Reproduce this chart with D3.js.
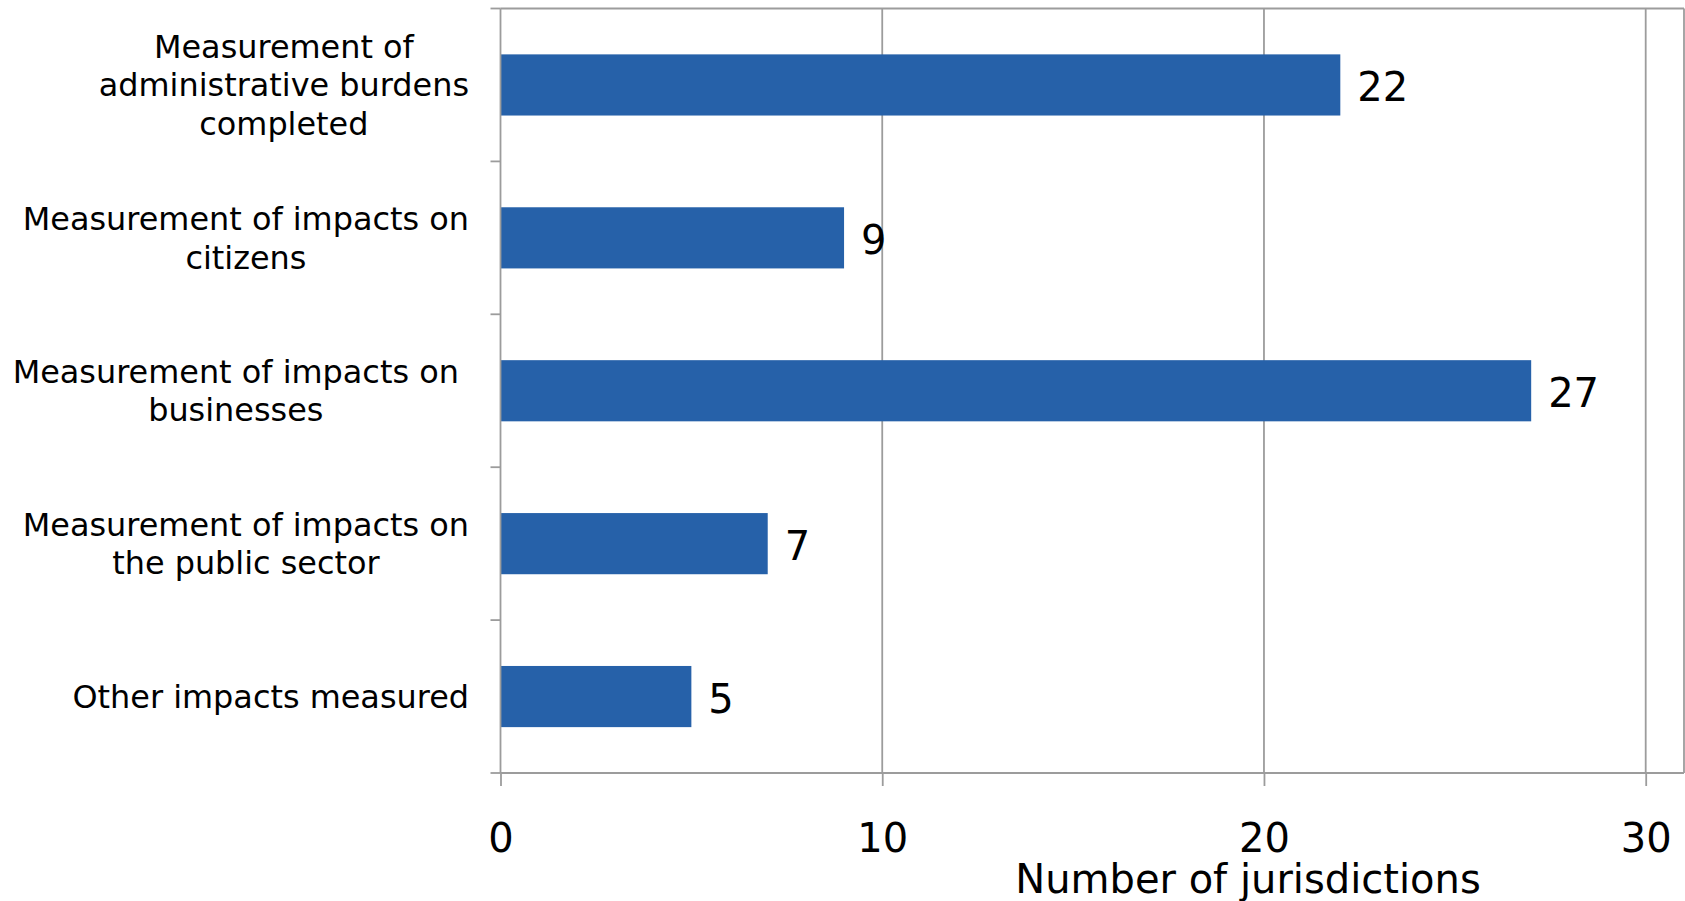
<!DOCTYPE html>
<html>
<head>
<meta charset="utf-8">
<script src="https://cdn.jsdelivr.net/npm/d3@7"></script>
<style>
  html, body { margin: 0; padding: 0; background: #fff; }
  svg { display: block; }
  text { font-family: "DejaVu Sans", Verdana, sans-serif; fill: #000; white-space: pre; }
</style>
</head>
<body>
<svg id="chart" width="1685" height="901"></svg>
<script>
// ---- data ----
const categories = [
  ["Measurement of", "administrative burdens", "completed"],
  ["Measurement of impacts on", "citizens"],
  ["Measurement of impacts on ", "businesses "],
  ["Measurement of impacts on", "the public sector"],
  ["Other impacts measured"]
];
const values = [22, 9, 27, 7, 5];
const xTicks = [0, 10, 20, 30];
const xTitle = "Number of jurisdictions";

// ---- layout ----
const plotL = 500.5, plotR = 1684, plotT = 8.5, plotB = 773;
const svg = d3.select("#chart");

const x = d3.scaleLinear().domain([0, 30]).range([plotL, 1645.7]);
const ids = d3.range(categories.length);
const y = d3.scaleBand().domain(ids).range([plotT, plotB]).paddingInner(0.6).paddingOuter(0.3);
const yBand = d3.scaleBand().domain(ids).range([plotT, plotB]);

const axisColor = "#9c9c9c";
const lw = 1.8;

// gridlines
svg.append("g").selectAll("line").data(xTicks.filter(d => d > 0)).join("line")
  .attr("x1", d => x(d)).attr("x2", d => x(d))
  .attr("y1", plotT).attr("y2", plotB)
  .attr("stroke", axisColor).attr("stroke-width", lw);

// plot border (top and right)
svg.append("line").attr("x1", plotL).attr("x2", plotR).attr("y1", plotT).attr("y2", plotT)
  .attr("stroke", axisColor).attr("stroke-width", lw);
svg.append("line").attr("x1", plotR).attr("x2", plotR).attr("y1", plotT).attr("y2", plotB)
  .attr("stroke", axisColor).attr("stroke-width", lw);

// bars
svg.append("g").selectAll("rect").data(values).join("rect")
  .attr("x", x(0))
  .attr("y", (d, i) => y(i))
  .attr("width", d => x(d) - x(0))
  .attr("height", y.bandwidth())
  .attr("fill", "#2661a9");

// value labels
svg.append("g").selectAll("text").data(values).join("text")
  .attr("x", d => x(d) + 17)
  .attr("y", (d, i) => y(i) + y.bandwidth() / 2 + 16)
  .attr("font-size", 40)
  .text(d => d);

// y axis line + ticks at band boundaries
const yTickPos = ids.map(i => yBand(i)).concat([plotB]);
svg.append("line").attr("x1", plotL).attr("x2", plotL).attr("y1", plotT).attr("y2", plotB)
  .attr("stroke", axisColor).attr("stroke-width", lw);
svg.append("g").selectAll("line").data(yTickPos).join("line")
  .attr("x1", plotL - 10).attr("x2", plotL)
  .attr("y1", d => d).attr("y2", d => d)
  .attr("stroke", axisColor).attr("stroke-width", lw);

// x axis
const xAxis = d3.axisBottom(x).tickValues(xTicks).tickSize(13).tickPadding(0).tickFormat(d3.format("d"));
const gx = svg.append("g").attr("transform", `translate(0,${plotB})`).call(xAxis);
gx.select(".domain").remove();
gx.selectAll(".tick line").attr("stroke", axisColor).attr("stroke-width", lw);
gx.selectAll(".tick text").attr("font-size", 40).attr("font-family", "DejaVu Sans, Verdana, sans-serif")
  .attr("fill", "#000").attr("dy", null).attr("y", 79);
svg.append("line").attr("x1", plotL).attr("x2", plotR).attr("y1", plotB).attr("y2", plotB)
  .attr("stroke", axisColor).attr("stroke-width", lw);

// x title
svg.append("text").attr("x", 1248).attr("y", 893).attr("text-anchor", "middle")
  .attr("font-size", 40).text(xTitle);

// category labels (multi-line, centered block right-aligned to axis)
const labelRight = 469;
const lineH = 38.5;
const fs = 31.9;
categories.forEach((lines, i) => {
  const g = svg.append("g");
  const cy = yBand(i) + yBand.bandwidth() / 2;
  const texts = lines.map((t, j) => g.append("text")
    .attr("font-size", fs)
    .attr("text-anchor", "middle")
    .attr("y", cy + (j - (lines.length - 1) / 2) * lineH + 0.36 * fs)
    .text(t));
  const maxW = d3.max(texts, t => t.node().getComputedTextLength());
  texts.forEach(t => t.attr("x", labelRight - maxW / 2));
});
</script>
</body>
</html>
